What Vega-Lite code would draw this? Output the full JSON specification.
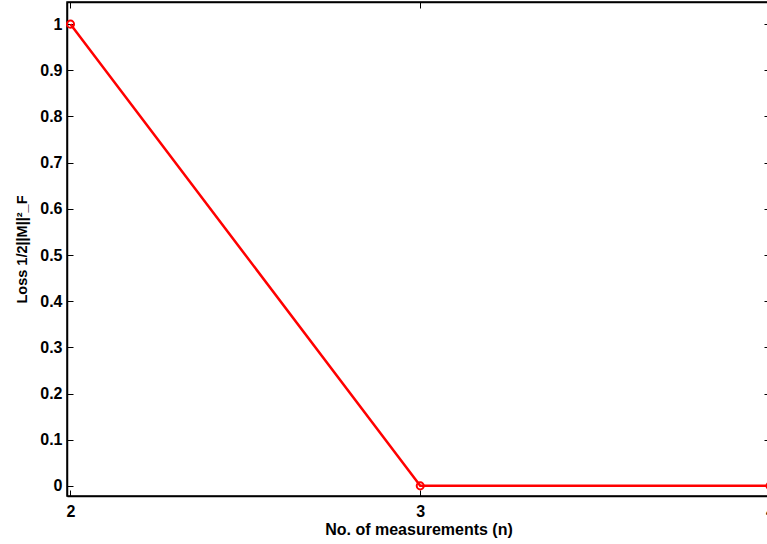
{
  "$schema": "https://vega.github.io/schema/vega-lite/v6.json",
  "autosize": {"type": "none"},
  "padding": {"left": 67, "top": 2, "right": 0, "bottom": 46},
  "width": 703,
  "height": 494,
  "background": "white",
  "config": {
    "view": {"stroke": "black", "strokeWidth": 1.5},
    "axis": {
      "labelFont": "Liberation Sans",
      "labelFontWeight": "bold",
      "labelFontSize": 16,
      "labelColor": "black",
      "labelOverlap": false,
      "labelFlush": false,
      "titleFont": "Liberation Sans",
      "titleFontWeight": "bold",
      "titleFontSize": 16,
      "titleColor": "black",
      "domainColor": "black",
      "domainWidth": 1.5,
      "tickColor": "black",
      "tickSize": -6,
      "tickWidth": 1,
      "grid": false
    }
  },
  "data": {"values": [
    {"n": 2, "loss": 1},
    {"n": 3, "loss": 0},
    {"n": 4, "loss": 0}
  ]},
  "layer": [
    {
      "mark": {"type": "line", "color": "#ff0000", "strokeWidth": 2.5, "clip": false, "point": {"shape": "circle", "filled": false, "stroke": "#ff0000", "strokeWidth": 2, "size": 50}},
      "encoding": {
        "x": {"field": "n", "type": "quantitative", "scale": {"domain": [1.99, 4.0], "nice": false, "zero": false},
          "axis": {"values": [2, 3, 4], "labelExpr": "'' + datum.value", "title": "No. of measurements (n)", "labelPadding": 13, "titlePadding": 2}},
        "y": {"field": "loss", "type": "quantitative", "scale": {"domain": [-0.022, 1.048], "nice": false, "zero": false},
          "axis": {"values": [0, 0.1, 0.2, 0.3, 0.4, 0.5, 0.6, 0.7, 0.8, 0.9, 1], "title": "Loss 1/2||M||²_F", "titleFontSize": 14.5, "labelPadding": 11, "titlePadding": 10,
            "labelExpr": "datum.value"}}
      }
    },
    {
      "mark": {"type": "line", "opacity": 0},
      "encoding": {
        "x": {"field": "n", "type": "quantitative", "axis": {"orient": "top", "values": [2, 3, 4], "labels": false, "title": null}},
        "y": {"field": "loss", "type": "quantitative", "axis": {"orient": "right", "values": [0, 0.1, 0.2, 0.3, 0.4, 0.5, 0.6, 0.7, 0.8, 0.9, 1], "labels": false, "title": null}}
      }
    }
  ],
  "resolve": {"axis": {"x": "independent", "y": "independent"}}
}
